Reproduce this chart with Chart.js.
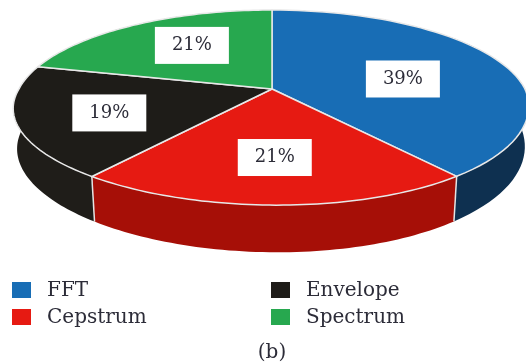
<!DOCTYPE html>
<html>
<head>
<meta charset="utf-8">
<style>
  html, body { margin: 0; padding: 0; background: #fff; overflow: hidden; }
</style>
<script src="https://cdn.jsdelivr.net/npm/chart.js@4"></script>
</head>
<body>
<canvas id="methodsChart" width="526" height="363"></canvas>
<script>
const methods = ['FFT', 'Cepstrum', 'Envelope', 'Spectrum'];
const shares = [39, 21, 19, 21];
const topColors = ['#186db5', '#e61a12', '#1e1c18', '#27a84f'];
const wallColors = ['#0e3050', '#a60f07', '#1f1d19', '#176b32'];
const caption = '(b)';

// Where each value box sits: fraction of the radius, then a small pixel nudge
const boxRadius = [0.57, 0.64, 0.65, 0.66];
const boxNudge = [[0, 7.5], [0.5, 0], [0, 3], [13, 1]];

const SERIF = '"DejaVu Serif", serif';
const INK = '#2c2c38';

// Perspective used for the tilted disc
const view = { cx: 272, cy: 89, a: 253, b: 94, k: 0.19 };

function topPoint(angle, r) {
    const u = Math.cos(angle) * r;
    const v = Math.sin(angle) * r;
    const w = 1 - view.k * v;
    // the near half of the disc leans a little to the left
    const leanX = v > 0 ? 5.5 * v : 0;
    const leanY = v > 0 ? 5 * u * v : 0;
    return { x: view.cx + view.a * u / w - leanX, y: view.cy + view.b * v / w + leanY };
}

// The lower rim is slightly narrower and more open than the top one
function bottomPoint(angle) {
    const p = topPoint(angle, 1);
    return { x: view.cx + (p.x - view.cx) * 0.985, y: view.cy + (p.y - view.cy) * 1.07 + 39 };
}

function rimAngles(arc) {
    const steps = 60;
    const list = [];
    for (let i = 0; i <= steps; i++) {
        list.push(arc.startAngle + (arc.endAngle - arc.startAngle) * i / steps);
    }
    return list;
}

function drawWalls(ctx, arcs) {
    arcs.forEach((arc, i) => {
        const angles = rimAngles(arc);
        ctx.beginPath();
        angles.forEach((a, n) => {
            const p = topPoint(a, 1);
            n ? ctx.lineTo(p.x, p.y) : ctx.moveTo(p.x, p.y);
        });
        angles.slice().reverse().forEach(a => {
            const p = bottomPoint(a);
            ctx.lineTo(p.x, p.y);
        });
        ctx.closePath();
        ctx.fillStyle = wallColors[i];
        ctx.fill();
    });

    // Pale seams between neighbouring walls, front edges only
    ctx.strokeStyle = '#e4e4e4';
    ctx.lineWidth = 1.5;
    arcs.forEach(arc => {
        if (Math.sin(arc.endAngle) < 0.3) return;
        const t = topPoint(arc.endAngle, 1);
        const b = bottomPoint(arc.endAngle);
        ctx.beginPath();
        ctx.moveTo(t.x, t.y);
        ctx.lineTo(b.x, b.y);
        ctx.stroke();
    });
}

function drawTop(ctx, arcs) {
    arcs.forEach((arc, i) => {
        ctx.beginPath();
        ctx.moveTo(view.cx, view.cy);
        rimAngles(arc).forEach(a => {
            const p = topPoint(a, 1);
            ctx.lineTo(p.x, p.y);
        });
        ctx.closePath();
        ctx.fillStyle = topColors[i];
        ctx.fill();
        ctx.strokeStyle = '#e8e8e8';
        ctx.lineWidth = 1.5;
        ctx.lineJoin = 'round';
        ctx.stroke();
    });
}

function drawValueBoxes(ctx, arcs) {
    ctx.font = '18px ' + SERIF;
    ctx.textAlign = 'center';
    ctx.textBaseline = 'middle';
    arcs.forEach((arc, i) => {
        const mid = (arc.startAngle + arc.endAngle) / 2;
        const p = topPoint(mid, boxRadius[i]);
        const x = p.x + boxNudge[i][0];
        const y = p.y + boxNudge[i][1];
        ctx.fillStyle = '#fff';
        ctx.fillRect(x - 37, y - 18.5, 74, 37);
        ctx.fillStyle = INK;
        ctx.fillText(shares[i] + '%', x, y);
    });
}

function drawKey(ctx) {
    ctx.font = '20px ' + SERIF;
    ctx.textAlign = 'left';
    ctx.textBaseline = 'alphabetic';
    methods.forEach((name, i) => {
        const col = i < 2 ? 0 : 1;
        const row = i % 2;
        const left = col ? 271 : 12;
        const top = row ? 309 : 282;
        ctx.fillStyle = topColors[i];
        ctx.fillRect(left, top, 19, 16);
        ctx.fillStyle = INK;
        ctx.fillText(name, left + 35, top + 13.5);
    });
    ctx.textAlign = 'center';
    ctx.fillText(caption, 272, 358);
}

// Draws the pie as a thick tilted disc from the arc angles Chart.js worked out
const tiltedPie = {
    id: 'tiltedPie',
    beforeDatasetsDraw(chart) {
        const ctx = chart.ctx;
        const arcs = chart.getDatasetMeta(0).data;
        ctx.save();
        drawWalls(ctx, arcs);
        drawTop(ctx, arcs);
        drawValueBoxes(ctx, arcs);
        drawKey(ctx);
        ctx.restore();
        return false;
    }
};

new Chart(document.getElementById('methodsChart'), {
    type: 'pie',
    data: {
        labels: methods,
        datasets: [{
            data: shares,
            backgroundColor: topColors
        }]
    },
    options: {
        responsive: false,
        animation: false,
        plugins: {
            legend: { display: false },
            tooltip: { enabled: false }
        }
    },
    plugins: [tiltedPie]
});
</script>
</body>
</html>
